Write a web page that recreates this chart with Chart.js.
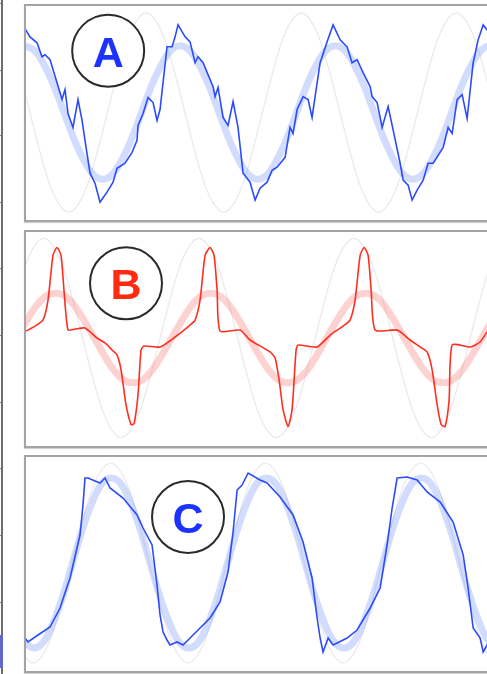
<!DOCTYPE html>
<html><head><meta charset="utf-8">
<script src="https://cdn.jsdelivr.net/npm/chart.js@4.4.1/dist/chart.umd.min.js"></script>
<style>
html,body{margin:0;padding:0;background:#fff;width:487px;height:674px;overflow:hidden;position:relative;}
.panel{position:absolute;left:24px;width:480px;height:218px;border:2px solid #a4a4a4;box-sizing:border-box;background:#fff;box-shadow:0 1px 1px #d0d0d0;}
.panel canvas{display:block;}
#edge{position:absolute;left:1px;top:0;width:2px;height:674px;background:#6b6b6b;}
#edgeBlue{position:absolute;left:0;top:635px;width:3px;height:33px;background:#6068d0;}
.tick{position:absolute;left:0;width:2px;height:1px;background:#777;}
</style></head><body>
<div id="edge"></div>
<div id="edgeBlue"></div>
<div class="panel" style="top:4px"><canvas id="cA" width="476" height="214"></canvas></div>
<div class="panel" style="top:230px"><canvas id="cB" width="476" height="214"></canvas></div>
<div class="panel" style="top:455px"><canvas id="cC" width="476" height="214"></canvas></div>
<script>
// ---- Data (time in ms, values in per-unit) ----
const LABELS = ['A', 'B', 'C'];

const A_GRAY_T = [-0.75,0.5,1.75,3,4.25,5.5,6.75,8,9.25,10.5,11.75,13,14.25,15.5,16.75,18,19.25,20.5,21.75,23,24.25,25.5,26.75,28,29.25,30.5,31.75,33,34.25,35.5,36.75,38,39.25,40.5,41.75,43,44.25,45.5,46.75,48,49.25,50.5,51.75,53,54.25,55.5,56.75,58,59.25,60.5,61.75];
const A_GRAY_V = [.38,0,-.38,-.71,-.92,-1,-.92,-.71,-.38,0,.38,.71,.92,1,.92,.71,
                  .38,0,-.38,-.71,-.92,-1,-.92,-.71,-.38,0,.38,.71,.92,1,.92,.71,
                  .38,0,-.38,-.71,-.92,-1,-.92,-.71,-.38,0,.38,.71,.92,1,.92,.71,
                  .38,0,-.38];
const A_SMOOTH_T = [-0.1,1.15,2.4,3.65,4.9,6.15,7.4,8.65,9.9,11.15,12.4,13.65,14.9,16.15,17.4,18.65,19.9,21.15,22.4,23.65,24.9,26.15,27.4,28.65,29.9,31.15,32.4,33.65,34.9,36.15,37.4,38.65,39.9,41.15,42.4,43.65,44.9,46.15,47.4,48.65,49.9,51.15,52.4,53.65,54.9,56.15,57.4,58.65,59.9,61.15,62.4];
const A_SMOOTH_V = [.67,.62,.47,.26,0,-.26,-.47,-.62,-.67,-.62,-.47,-.26,0,.26,.47,.62,
                    .67,.62,.47,.26,0,-.26,-.47,-.62,-.67,-.62,-.47,-.26,0,.26,.47,.62,
                    .67,.62,.47,.26,0,-.26,-.47,-.62,-.67,-.62,-.47,-.26,0,.26,.47,.62,
                    .67,.62,.47];
const A_TRACE_T = [-0.26,0.52,1.42,2.06,2.45,3.1,4.0,4.65,5.03,5.42,6.06,6.71,7.23,7.61,8.26,8.9,9.55,10.45,11.23,11.74,12.77,13.68,14.32,14.45,15.1,15.74,16.39,16.9,17.29,18.19,18.84,19.23,19.61,20.52,21.16,21.81,22.19,22.84,24.13,24.39,24.77,25.42,26.06,26.71,27.35,28.0,28.9,29.55,30.19,31.1,31.74,32.39,33.42,34.06,34.45,34.97,35.74,36.39,36.9,37.29,37.94,38.84,39.61,40.52,41.42,42.06,42.71,43.48,44.39,44.65,45.29,45.94,46.71,47.23,48.26,48.65,49.29,49.81,50.45,51.23,51.87,52.52,53.81,54.45,54.97,55.61,56.26,56.9,57.68,58.32,58.97,59.48,60.5,61.6];
const A_TRACE_V = [.86,.76,.70,.56,.58,.53,.30,.13,.23,-.01,-.15,.13,-.08,-.28,-.61,-.71,-.90,-.80,-.70,-.56,-.51,-.40,-.28,-.13,-.01,.15,.10,-.08,.03,.66,.66,.76,.88,.76,.71,.50,.56,.50,.26,.16,.25,-.05,-.13,.11,-.15,-.61,-.70,-.88,-.76,-.70,-.58,-.55,-.45,-.15,-.21,.03,.16,.13,-.05,.16,.50,.71,.88,.73,.66,.50,.53,.40,.26,.16,.10,-.15,.06,-.13,-.51,-.68,-.73,-.88,-.78,-.68,-.51,-.51,-.35,-.15,-.21,.13,.18,-.06,.50,.73,.88,.83,.68,.60];

const B_GRAY_T = [-0.2,1.05,2.3,3.55,4.8,6.05,7.3,8.55,9.8,11.05,12.3,13.55,14.8,16.05,17.3,18.55,19.8,21.05,22.3,23.55,24.8,26.05,27.3,28.55,29.8,31.05,32.3,33.55,34.8,36.05,37.3,38.55,39.8,41.05,42.3,43.55,44.8,46.05,47.3,48.55,49.8,51.05,52.3,53.55,54.8,56.05,57.3,58.55,59.8,61.05,62.3];
const B_GRAY_V = [.71,.92,1,.92,.71,.38,0,-.38,-.71,-.92,-1,-.92,-.71,-.38,0,.38,
                  .71,.92,1,.92,.71,.38,0,-.38,-.71,-.92,-1,-.92,-.71,-.38,0,.38,
                  .71,.92,1,.92,.71,.38,0,-.38,-.71,-.92,-1,-.92,-.71,-.38,0,.38,
                  .71,.92,1];
const B_SMOOTH_T = [-1.2,0.05,1.3,2.55,3.8,5.05,6.3,7.55,8.8,10.05,11.3,12.55,13.8,15.05,16.3,17.55,18.8,20.05,21.3,22.55,23.8,25.05,26.3,27.55,28.8,30.05,31.3,32.55,33.8,35.05,36.3,37.55,38.8,40.05,41.3,42.55,43.8,45.05,46.3,47.55,48.8,50.05,51.3,52.55,53.8,55.05,56.3,57.55,58.8,60.05,61.3,62.55];
const B_SMOOTH_V = [0,.17,.32,.42,.45,.42,.32,.17,0,-.17,-.32,-.42,-.45,-.42,-.32,-.17,
                    0,.17,.32,.42,.45,.42,.32,.17,0,-.17,-.32,-.42,-.45,-.42,-.32,-.17,
                    0,.17,.32,.42,.45,.42,.32,.17,0,-.17,-.32,-.42,-.45,-.42,-.32,-.17,
                    0,.17,.32,.42];
const B_TRACE_T = [-0.26,1.16,2.19,2.84,3.48,4.0,4.52,4.9,5.42,6.32,7.61,9.16,10.19,11.1,11.74,12.26,12.9,13.55,13.94,14.45,14.84,15.23,17.29,19.23,21.16,21.81,22.45,23.1,23.74,24.26,24.65,25.03,27.61,28.9,31.48,32.13,32.65,33.16,33.81,34.32,34.84,35.1,37.55,39.23,40.9,41.8,42.45,43.1,43.61,44.13,44.52,45.03,47.87,49.55,50.84,51.74,52.39,53.03,53.55,54.06,54.58,54.97,57.29,58.58,59.48,61.16,62.0];
const B_TRACE_V = [.06,.12,.18,.38,.83,.91,.83,.48,.08,.09,.10,0,-.05,-.12,-.17,-.32,-.67,-.87,-.86,-.57,-.12,-.08,-.09,.01,.13,.18,.38,.83,.91,.83,.48,.07,.08,-.02,-.14,-.20,-.42,-.72,-.89,-.72,-.12,-.07,-.09,.03,.12,.18,.38,.83,.91,.83,.48,.08,.08,-.02,-.09,-.14,-.32,-.67,-.87,-.89,-.62,-.07,-.09,-.04,.06,.15,.20];

const C_GRAY_T = [-0.35,0.9,2.15,3.4,4.65,5.9,7.15,8.4,9.65,10.9,12.15,13.4,14.65,15.9,17.15,18.4,19.65,20.9,22.15,23.4,24.65,25.9,27.15,28.4,29.65,30.9,32.15,33.4,34.65,35.9,37.15,38.4,39.65,40.9,42.15,43.4,44.65,45.9,47.15,48.4,49.65,50.9,52.15,53.4,54.65,55.9,57.15,58.4,59.65,60.9,62.15];
const C_GRAY_V = [-.92,-1,-.92,-.71,-.38,0,.38,.71,.92,1,.92,.71,.38,0,-.38,-.71,
                  -.92,-1,-.92,-.71,-.38,0,.38,.71,.92,1,.92,.71,.38,0,-.38,-.71,
                  -.92,-1,-.92,-.71,-.38,0,.38,.71,.92,1,.92,.71,.38,0,-.38,-.71,
                  -.92,-1,-.92];
const C_SMOOTH_T = [-0.25,1,2.25,3.5,4.75,6,7.25,8.5,9.75,11,12.25,13.5,14.75,16,17.25,18.5,19.75,21,22.25,23.5,24.75,26,27.25,28.5,29.75,31,32.25,33.5,34.75,36,37.25,38.5,39.75,41,42.25,43.5,44.75,46,47.25,48.5,49.75,51,52.25,53.5,54.75,56,57.25,58.5,59.75,61,62.25];
const C_SMOOTH_V = [-.79,-.85,-.79,-.6,-.33,0,.33,.6,.79,.85,.79,.6,.33,0,-.33,-.6,
                    -.79,-.85,-.79,-.6,-.33,0,.33,.6,.79,.85,.79,.6,.33,0,-.33,-.6,
                    -.79,-.85,-.79,-.6,-.33,0,.33,.6,.79,.85,.79,.6,.33,0,-.33,-.6,
                    -.79,-.85,-.79];
const C_TRACE_T = [-0.13,0.26,1.55,3.1,4.39,5.68,6.97,7.35,7.61,8.0,8.9,9.55,10.19,10.84,12.52,14.32,15.1,16.26,16.9,17.29,17.68,18.19,18.58,19.48,20.26,21.55,23.74,25.03,26.06,26.71,27.23,27.87,28.65,30.19,31.1,32.77,34.45,35.74,36.9,37.55,37.94,38.32,38.97,39.61,41.42,42.71,44.39,45.68,46.58,47.23,47.87,49.16,50.45,51.74,53.42,55.1,56.39,57.03,57.68,58.58,58.97,59.48,61.16,62.0];
const C_TRACE_V = [-.75,-.79,-.72,-.64,-.45,-.15,.28,.58,.85,.85,.82,.80,.85,.75,.65,.48,.35,.18,-.22,-.52,-.69,-.77,-.82,-.79,-.82,-.72,-.55,-.39,-.09,.31,.73,.78,.90,.83,.80,.66,.48,.21,-.15,-.55,-.75,-.89,-.75,-.82,-.75,-.67,-.45,-.25,.18,.55,.85,.86,.83,.71,.61,.41,.08,-.25,-.65,-.75,-.89,-.82,-.77,-.76];

// label badge anchor (data units)
const BADGE_T = [10.6, 12.9, 20.9];
const BADGE_V = [0.62, 0.55, 0.46];

// ---- Drawing ----
const pts = (t, v) => t.map((x, i) => ({x: x, y: v[i]}));

const badgePlugin = {
  id: 'badge',
  afterDatasetsDraw(chart, args, opts) {
    const ctx = chart.ctx;
    const cx = chart.scales.x.getPixelForValue(opts.t);
    const cy = chart.scales.y.getPixelForValue(opts.v);
    ctx.save();
    ctx.beginPath();
    ctx.arc(cx, cy, 36, 0, Math.PI * 2);
    ctx.fillStyle = '#ffffff';
    ctx.fill();
    ctx.lineWidth = 2;
    ctx.strokeStyle = '#2a2a2a';
    ctx.stroke();
    ctx.font = 'bold 43px "Liberation Sans", Arial, sans-serif';
    ctx.textAlign = 'center';
    ctx.textBaseline = 'alphabetic';
    ctx.fillStyle = opts.color;
    ctx.fillText(opts.text, cx, cy + 16);
    ctx.restore();
  }
};

function makeChart(id, grayT, grayV, smT, smV, trT, trV, idx, yMin, yMax, traceColor, smoothColor, traceTension, badgeColor) {
  new Chart(document.getElementById(id), {
    type: 'line',
    data: {
      datasets: [
        {data: pts(trT, trV), borderColor: traceColor, borderWidth: 1.6, pointRadius: 0, tension: traceTension, order: 1},
        {data: pts(smT, smV), borderColor: smoothColor, borderWidth: 7, pointRadius: 0, tension: 0.4, order: 2, borderCapStyle: 'round'},
        {data: pts(grayT, grayV), borderColor: '#e9e9e9', borderWidth: 1.2, pointRadius: 0, tension: 0.4, order: 3}
      ]
    },
    options: {
      responsive: false,
      devicePixelRatio: 1,
      animation: false,
      layout: {padding: 0},
      scales: {
        x: {type: 'linear', display: false, min: 0, max: 61.4},
        y: {type: 'linear', display: false, min: yMin, max: yMax}
      },
      plugins: {
        legend: {display: false},
        tooltip: {enabled: false},
        badge: {t: BADGE_T[idx], v: BADGE_V[idx], text: LABELS[idx], color: badgeColor}
      }
    },
    plugins: [badgePlugin]
  });
}

makeChart('cA', A_GRAY_T, A_GRAY_V, A_SMOOTH_T, A_SMOOTH_V, A_TRACE_T, A_TRACE_V, 0, -1.08, 1.07, '#2b4bfb', 'rgba(95,130,255,0.28)', 0, '#1c33ff');
makeChart('cB', B_GRAY_T, B_GRAY_V, B_SMOOTH_T, B_SMOOTH_V, B_TRACE_T, B_TRACE_V, 1, -1.085, 1.065, '#ff2e1f', 'rgba(255,95,95,0.28)', 0.2, '#ff2a10');
makeChart('cC', C_GRAY_T, C_GRAY_V, C_SMOOTH_T, C_SMOOTH_V, C_TRACE_T, C_TRACE_V, 2, -1.08, 1.06, '#2b4bfb', 'rgba(95,130,255,0.28)', 0, '#1c33ff');

// small tick marks on the cut-off neighbouring panel
[3, 70, 135, 202, 268, 335, 402, 468, 535, 602].forEach(y => {
  const d = document.createElement('div');
  d.className = 'tick';
  d.style.top = y + 'px';
  document.body.appendChild(d);
});
</script>
</body></html>
